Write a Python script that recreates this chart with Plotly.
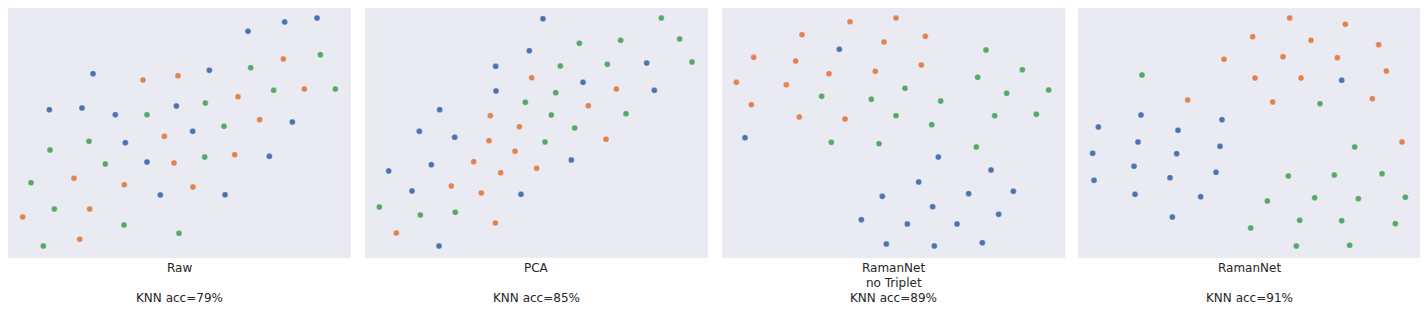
import plotly.graph_objects as go

# Point coordinates (arbitrary embedding units; y grows downward)
raw_blue = [(720,70),(830,42),(927,30),(255,197),(604,187),(124,305),(222,300),(322,320),(505,294),(853,342),(352,404),(554,370),(417,462),(784,445),(457,561),(651,560)]
raw_orange = [(405,216),(510,203),(826,153),(690,266),(889,243),(755,335),(469,385),(498,465),(680,440),(198,511),(349,530),(555,537),(245,603),(44,627),(215,694)]
raw_green = [(937,140),(728,179),(797,247),(982,243),(592,285),(417,320),(648,355),(243,400),(126,426),(292,468),(590,447),(69,524),(139,603),(348,651),(513,676),(106,714)]

pca_blue = [(534,32),(493,128),(392,175),(393,249),(654,223),(845,165),(868,247),(224,305),(163,370),(269,388),(199,470),(71,489),(141,549),(619,456),(468,559),(222,714)]
pca_orange = [(500,209),(754,243),(670,293),(376,323),(463,356),(372,398),(450,430),(723,394),(326,461),(407,494),(515,481),(259,534),(349,555),(391,645),(94,675)]
pca_green = [(889,30),(944,93),(981,162),(643,106),(767,97),(586,174),(727,169),(572,254),(481,283),(559,321),(783,317),(629,360),(540,402),(43,597),(166,621),(271,613)]

rnt_blue = [(352,124),(69,389),(649,447),(807,486),(590,522),(874,550),(481,565),(740,557),(632,596),(830,619),(418,635),(556,648),(705,648),(493,708),(637,714),(781,704)]
rnt_orange = [(384,41),(522,30),(240,80),(486,102),(610,85),(95,148),(221,159),(321,197),(460,190),(598,171),(43,223),(193,230),(88,290),(232,327),(369,333)]
rnt_green = [(792,126),(901,185),(767,208),(549,241),(854,256),(980,246),(299,265),(448,274),(656,279),(522,323),(818,323),(943,319),(629,350),(328,403),(471,407),(763,417)]

rn_blue = [(791,217),(189,321),(432,335),(61,357),(300,367),(180,402),(426,415),(44,436),(296,437),(168,475),(414,493),(276,509),(48,517),(171,559),(368,566),(283,627)]
rn_orange = [(635,30),(802,49),(524,86),(699,97),(902,110),(438,154),(615,146),(778,149),(925,189),(531,210),(669,210),(329,276),(584,282),(883,272),(972,402)]
rn_green = [(192,201),(726,287),(830,417),(631,504),(769,501),(912,497),(568,579),(710,569),(841,572),(982,568),(665,637),(791,638),(952,647),(518,660),(655,714),(815,712)]

panel_titles = [["Raw", "", "KNN acc=79%"], ["PCA", "", "KNN acc=85%"],
                ["RamanNet", "no Triplet", "KNN acc=89%"], ["RamanNet", "", "KNN acc=91%"]]
panels = [
    (raw_blue, raw_orange, raw_green),
    (pca_blue, pca_orange, pca_green),
    (rnt_blue, rnt_orange, rnt_green),
    (rn_blue, rn_orange, rn_green),
]
colors = ["#4c72b0", "#dd8452", "#55a868"]

OFF = 8  # page body margin
W, H = 1428 - OFF, 312 - OFF
x_px = [(8, 351), (365, 708), (722, 1065), (1078, 1421)]
y_top, y_bot = 8, 258
line_y = [268, 283, 298]

def px_x(v):
    return (v - OFF) / W

def px_y(v):
    return 1 - (v - OFF) / H

fig = go.Figure()
layout = dict(
    width=W, height=H,
    margin=dict(l=0, r=0, t=0, b=0),
    paper_bgcolor="white",
    plot_bgcolor="#eaeaf2",
    showlegend=False,
    font=dict(family="DejaVu Sans", size=12, color="#262626"),
)
annotations = []
for i, (series, (x0, x1)) in enumerate(zip(panels, x_px)):
    suffix = "" if i == 0 else str(i + 1)
    for pts, c in zip(series, colors):
        fig.add_trace(go.Scatter(
            x=[p[0] for p in pts], y=[p[1] for p in pts],
            mode="markers",
            marker=dict(color=c, size=6, line=dict(color="white", width=0.3)),
            xaxis="x" + suffix, yaxis="y" + suffix,
            hoverinfo="skip",
        ))
    layout["xaxis" + suffix] = dict(
        domain=[px_x(x0), px_x(x1)], range=[0, 1029], showgrid=False, zeroline=False,
        showticklabels=False, ticks="", anchor="y" + suffix, fixedrange=True,
    )
    layout["yaxis" + suffix] = dict(
        domain=[px_y(y_bot), px_y(y_top)], range=[750, 0], showgrid=False, zeroline=False,
        showticklabels=False, ticks="", anchor="x" + suffix, fixedrange=True,
    )
    for txt, ly in zip(panel_titles[i], line_y):
        if not txt:
            continue
        annotations.append(dict(
            text=txt, xref="paper", yref="paper",
            x=px_x((x0 + x1) / 2), y=px_y(ly), xanchor="center", yanchor="middle",
            showarrow=False, align="center",
            font=dict(family="DejaVu Sans", size=12, color="#262626"),
        ))
layout["annotations"] = annotations
fig.update_layout(**layout)
fig.write_html("out.html")
